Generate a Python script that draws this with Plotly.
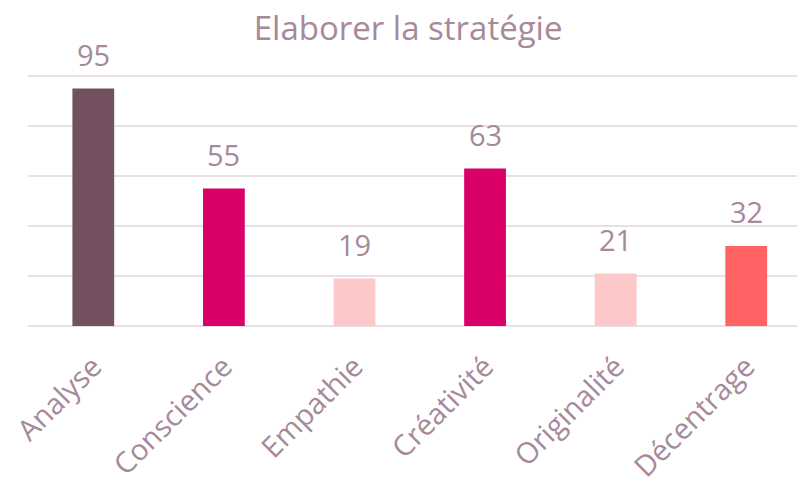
import plotly.graph_objects as go

categories = ["Analyse", "Conscience", "Empathie", "Créativité", "Originalité", "Décentrage"]
values = [95, 55, 19, 63, 21, 32]
bar_colors = ["#72505F", "#D90068", "#FCC8CA", "#D90068", "#FCC8CA", "#FF6363"]

text_color = "#A6899A"
font_family = "Open Sans, Noto Sans, sans-serif"

xs = list(range(len(categories)))

fig = go.Figure(go.Bar(
    x=xs,
    y=values,
    marker=dict(color=bar_colors, line=dict(width=0)),
    width=0.32,
    hoverinfo="x+y",
))

for x, v in zip(xs, values):
    fig.add_annotation(x=x, y=v, text=str(v), showarrow=False, yanchor="bottom",
                       yshift=13, font=dict(size=29, color=text_color, family=font_family))

fig.update_layout(
    width=797, height=483,
    margin=dict(l=15, r=0, t=63, b=165),
    paper_bgcolor="white", plot_bgcolor="white",
    showlegend=False,
    title=dict(text="Elaborer la stratégie", x=0.502, xref="container", xanchor="center",
               y=0.958, yref="container", yanchor="middle",
               font=dict(size=33, color=text_color, family=font_family)),
    xaxis=dict(tickmode="array", tickvals=xs, ticktext=categories,
               range=[-0.5, 5.45], tickangle=-45, showgrid=False, zeroline=False,
               showline=False, ticks="", ticklabelstandoff=17, ticklabeloverflow="allow",
               tickfont=dict(size=29, color=text_color, family=font_family)),
    yaxis=dict(range=[0, 102], tickmode="array", tickvals=[0, 20, 40, 60, 80, 100],
               showticklabels=False, showgrid=True,
               gridcolor="#E8E0E4", gridwidth=1.5, zeroline=True, zerolinecolor="#E8E0E4",
               zerolinewidth=1.5, showline=False, ticks=""),
)

fig.write_html("out.html")
